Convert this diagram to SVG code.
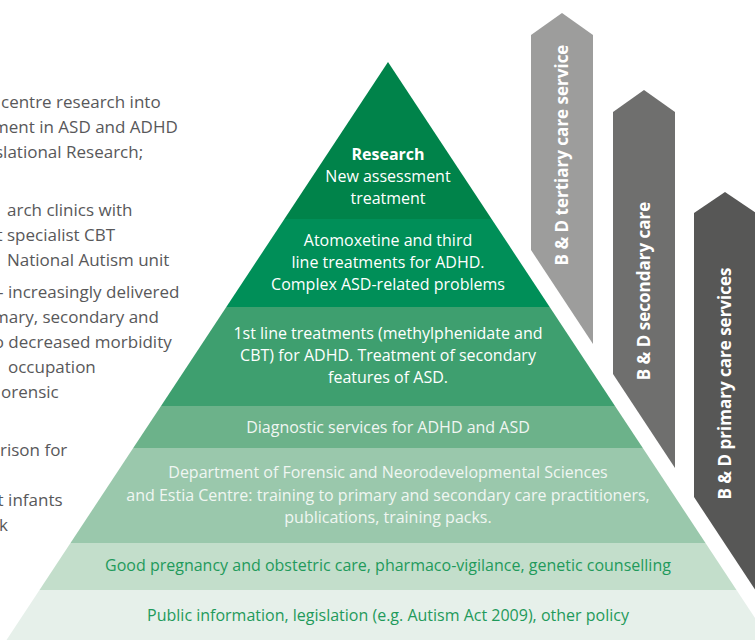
<svg xmlns="http://www.w3.org/2000/svg" width="755" height="640" viewBox="0 0 755 640">
<style>
.side{font-family:"Open Sans","DejaVu Sans",sans-serif;font-size:17px;fill:#58585a}
.pt{font-family:"Open Sans","DejaVu Sans",sans-serif;font-size:16px;fill:#ffffff;text-anchor:middle}
.pt2{fill:#f0f6f2}
.gt{font-family:"Open Sans","DejaVu Sans",sans-serif;font-size:16px;fill:#1f9a5b;text-anchor:middle}
.at{font-family:"Open Sans","DejaVu Sans",sans-serif;font-size:17px;font-weight:bold;fill:#ffffff;text-anchor:middle}
</style>
<rect width="755" height="640" fill="#ffffff"/>
<g id="side-text">
<text class="side" x="1" y="107.5">centre research into</text>
<text class="side" x="-7" y="132.5">ment in ASD and ADHD</text>
<text class="side" x="-5" y="157.5">slational Research;</text>
<text class="side" x="7" y="215.5">arch clinics with</text>
<text class="side" x="-3.5" y="240.5">t specialist CBT</text>
<text class="side" x="7" y="265.5">National Autism unit</text>
<text class="side" x="-5" y="297.5">– increasingly delivered</text>
<text class="side" x="-7" y="322.5">mary, secondary and</text>
<text class="side" x="-6.3" y="347.5">o decreased morbidity</text>
<text class="side" x="8" y="372.5">occupation</text>
<text class="side" x="1" y="397.5">orensic</text>
<text class="side" x="0" y="455.5">rison for</text>
<text class="side" x="-2.4" y="505.5">t infants</text>
<text class="side" x="-1" y="530.5">k</text>
</g>
<g id="tier-research">
<polygon points="388,62 491.6,219 284.4,219" fill="#00834a"/>
<text class="pt" x="388" y="160" font-weight="bold">Research</text>
<text class="pt" x="388" y="182">New assessment</text>
<text class="pt" x="388" y="204">treatment</text>
</g>
<g id="tier-atomoxetine">
<polygon points="284.4,219 491.6,219 549.7,307 226.3,307" fill="#008f58"/>
<text class="pt" x="388" y="245.5">Atomoxetine and third</text>
<text class="pt" x="388" y="267.8">line treatments for ADHD.</text>
<text class="pt" x="388" y="290">Complex ASD-related problems</text>
</g>
<g id="tier-first-line">
<polygon points="226.3,307 549.7,307 615,406 161,406" fill="#3e9f6f"/>
<text class="pt" x="388" y="339">1st line treatments (methylphenidate and</text>
<text class="pt" x="388" y="361">CBT) for ADHD. Treatment of secondary</text>
<text class="pt" x="388" y="383.3">features of ASD.</text>
</g>
<g id="tier-diagnostic">
<polygon points="161,406 615,406 642.8,448 133.2,448" fill="#6cb28a"/>
<text class="pt pt2" x="388" y="433.3">Diagnostic services for ADHD and ASD</text>
</g>
<g id="tier-department">
<polygon points="133.2,448 642.8,448 705.5,543 70.5,543" fill="#9ac8ac"/>
<text class="pt pt2" x="388" y="478.3">Department of Forensic and Neorodevelopmental Sciences</text>
<text class="pt pt2" x="388" y="500.5">and Estia Centre: training to primary and secondary care practitioners,</text>
<text class="pt pt2" x="388" y="522.7">publications, training packs.</text>
</g>
<g id="tier-pregnancy">
<polygon points="70.5,543 705.5,543 736.5,590 39.5,590" fill="#c3decb"/>
<text class="gt" x="388" y="570.7">Good pregnancy and obstetric care, pharmaco-vigilance, genetic counselling</text>
</g>
<g id="tier-public">
<polygon points="39.5,590 736.5,590 769.5,640 6.5,640" fill="#e6f0ea"/>
<text class="gt" x="388" y="620.7">Public information, legislation (e.g. Autism Act 2009), other policy</text>
</g>
<g id="arrow-tertiary">
<polygon points="531,250 531,35 562,13 593,35 593,344" fill="#9d9d9c"/>
<text class="at" transform="translate(562,155) rotate(-90)" x="0" y="6">B &amp; D tertiary care service</text>
</g>
<g id="arrow-secondary">
<polygon points="613,374 613,112 644,90 675,112 675,468" fill="#6f6f6e"/>
<text class="at" transform="translate(644,291) rotate(-90)" x="0" y="6">B &amp; D secondary care</text>
</g>
<g id="arrow-primary">
<polygon points="694,497 694,213 725,192 756,213 756,591" fill="#575756"/>
<text class="at" transform="translate(725,383.5) rotate(-90)" x="0" y="6">B &amp; D primary care services</text>
</g>
</svg>
